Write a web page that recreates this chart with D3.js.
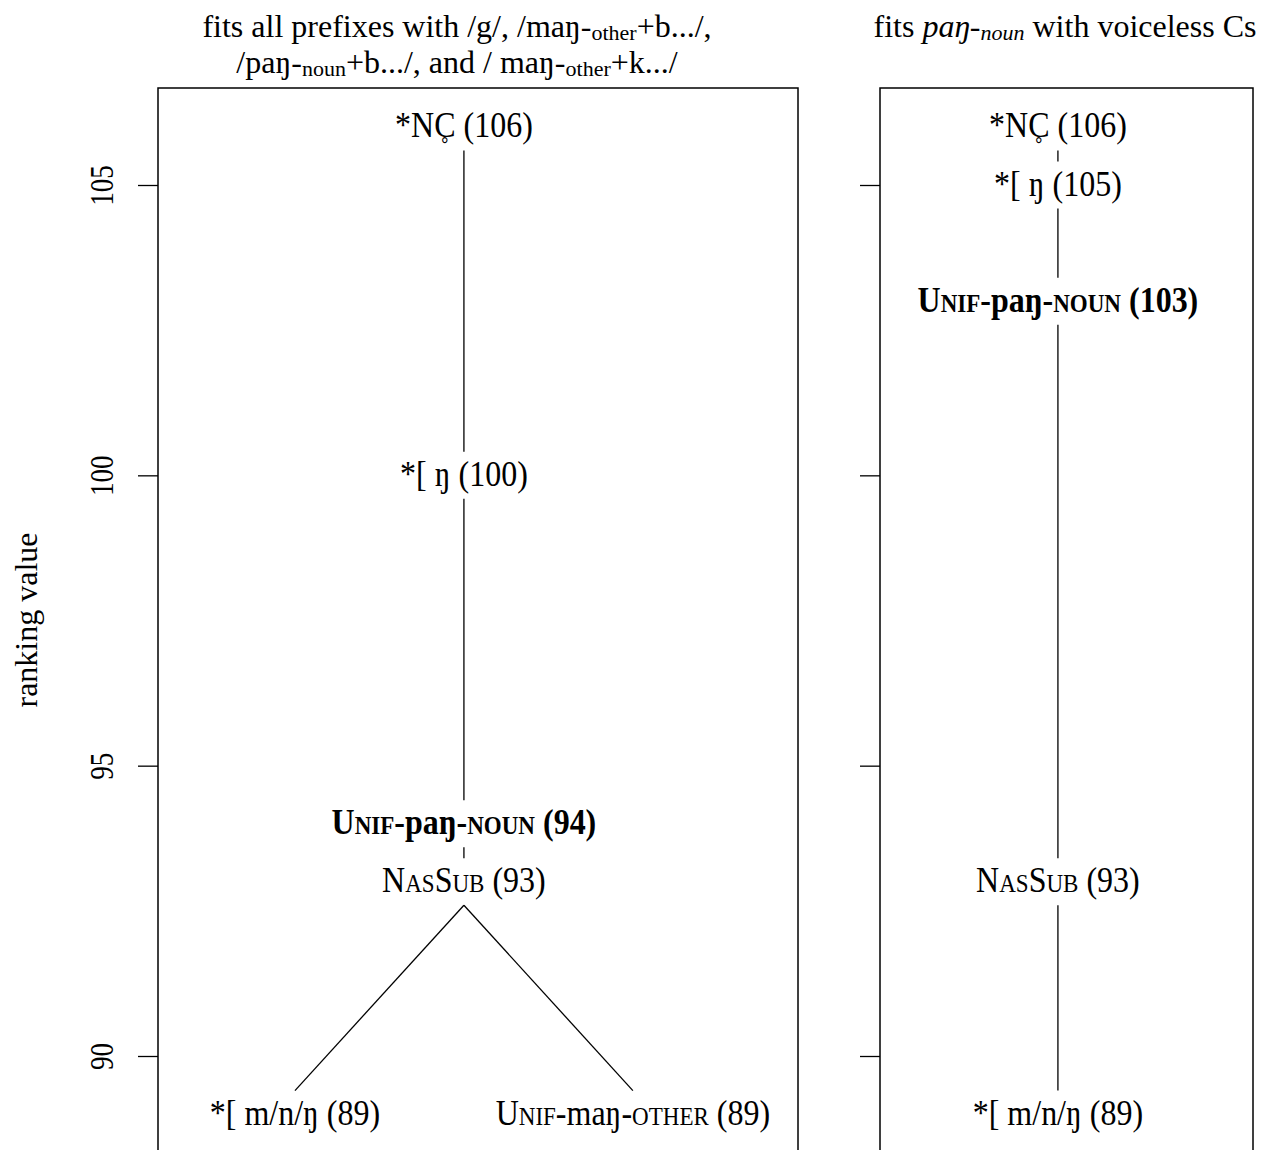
<!DOCTYPE html>
<html><head><meta charset="utf-8">
<script src="https://cdn.jsdelivr.net/npm/d3@7"></script>
<style>body{margin:0;background:#fff}svg{display:block}text{font-family:"Liberation Serif","Times New Roman",serif;fill:#000}</style>
</head><body>
<script>
// ---- data ----
const yTicks = [90, 95, 100, 105];
const yLabel = "ranking value";
// Labels: {…} = small caps segment, C\u0325 = C with ring below
const leftLabels = ["*NC\u0325 (106)", "*[ \u014B (100)", "U{nif}-pa\u014B-{noun} (94)", "N{as}S{ub} (93)", "*[ m/n/\u014B (89)", "U{nif}-ma\u014B-{other} (89)"];
const leftValues = [106, 100, 94, 93, 89, 89];
const leftPos = [0.478, 0.478, 0.478, 0.478, 0.214, 0.742];
const leftBold = [false, false, true, false, false, false];
const leftEdges = [[0, 1], [1, 2], [2, 3], [3, 4], [3, 5]];

const rightLabels = ["*NC\u0325 (106)", "*[ \u014B (105)", "U{nif}-pa\u014B-{noun} (103)", "N{as}S{ub} (93)", "*[ m/n/\u014B (89)"];
const rightValues = [106, 105, 103, 93, 89];
const rightPos = [0.477, 0.477, 0.477, 0.477, 0.477];
const rightBold = [false, false, true, false, false];
const rightEdges = [[0, 1], [1, 2], [2, 3], [3, 4]];

// titles: segments [text, style] style: n normal, sub subscript, i italic, isub italic subscript
const leftTitle = [
  [["fits all prefixes with /g/, /ma\u014B-", "n"], ["other", "sub"], ["+b.../,", "n"]],
  [["/pa\u014B-", "n"], ["noun", "sub"], ["+b.../, and / ma\u014B-", "n"], ["other", "sub"], ["+k.../", "n"]]
];
const rightTitle = [
  [["fits ", "n"], ["pa\u014B-", "i"], ["noun", "isub"], [" with voiceless Cs", "n"]]
];

// ---- layout ----
const W = 1262, H = 1150, FS = 32;
const svg = d3.select("body").append("svg").attr("width", W).attr("height", H);
const y = d3.scaleLinear().domain([90, 105]).range([1056, 185]);

const panels = [
  {x0: 158, x1: 798, tcx: 457, labels: leftLabels, values: leftValues, pos: leftPos, bold: leftBold, edges: leftEdges, title: leftTitle, tickLabels: true},
  {x0: 880, x1: 1253, tcx: 1065, labels: rightLabels, values: rightValues, pos: rightPos, bold: rightBold, edges: rightEdges, title: rightTitle, tickLabels: false}
];

function addRich(textSel, str) {
  const parts = str.split(/(\{[^}]*\}|C\u0325)/).filter(s => s.length);
  let pendingDx = null;
  parts.forEach(p => {
    let ts;
    if (p === "C\u0325") {
      const c = textSel.append("tspan").text("C");
      if (pendingDx !== null) { c.attr("dx", pendingDx); pendingDx = null; }
      const cw = c.node().getComputedTextLength();
      const ring = textSel.append("tspan").attr("font-size", FS * 0.85).text("\u02F3");
      const rw = ring.node().getComputedTextLength();
      const shift = cw / 2 + rw / 2;
      ring.attr("dx", -shift);
      pendingDx = shift - rw;
      return;
    }
    if (p[0] === "{") ts = textSel.append("tspan").attr("font-size", FS * 0.72).text(p.slice(1, -1).toUpperCase());
    else ts = textSel.append("tspan").text(p);
    if (pendingDx !== null) { ts.attr("dx", pendingDx); pendingDx = null; }
  });
}

const gap = 23.5;
panels.forEach(P => {
  const x = d3.scaleLinear().domain([0, 1]).range([P.x0, P.x1]);
  const g = svg.append("g");
  // box
  g.append("rect").attr("x", P.x0).attr("y", 88).attr("width", P.x1 - P.x0).attr("height", 1200)
    .attr("fill", "none").attr("stroke", "#000").attr("stroke-width", 1.5);
  // axis ticks
  const ax = d3.axisLeft(y).tickValues(yTicks).tickSize(20).tickPadding(0).tickFormat(P.tickLabels ? d3.format("d") : "");
  const axg = g.append("g").attr("transform", `translate(${P.x0},0)`).call(ax);
  axg.select(".domain").remove();
  axg.selectAll(".tick line").attr("stroke", "#000").attr("stroke-width", 1.3);
  axg.selectAll(".tick text").attr("font-size", 27).attr("font-family", "Liberation Serif")
    .attr("fill", "#000").attr("text-anchor", "middle").attr("x", 0).attr("dy", "0.34em")
    .attr("transform", "translate(-56.5,0) rotate(-90) scale(1,1.25)");
  // edges
  P.edges.forEach(([a, b]) => {
    g.append("line")
      .attr("x1", x(P.pos[a])).attr("y1", y(P.values[a]) + gap)
      .attr("x2", x(P.pos[b])).attr("y2", y(P.values[b]) - gap)
      .attr("stroke", "#000").attr("stroke-width", 1.3);
  });
  // labels
  P.labels.forEach((l, i) => {
    const t = g.append("text")
      .attr("transform", `translate(${x(P.pos[i])},${y(P.values[i])}) scale(1,1.1)`)
      .attr("dy", "0.3em")
      .attr("text-anchor", "middle").attr("font-size", FS).attr("font-weight", P.bold[i] ? "bold" : "normal");
    addRich(t, l);
  });
  // title
  P.title.forEach((line, li) => {
    const t = svg.append("text").attr("x", P.tcx).attr("y", 37 + li * 36).attr("text-anchor", "middle").attr("font-size", 32);
    line.forEach(([s, st]) => {
      const ts = t.append("tspan").text(s);
      if (st === "sub" || st === "isub") ts.attr("font-size", 22).attr("baseline-shift", "-3");
      if (st === "i" || st === "isub") ts.attr("font-style", "italic");
    });
  });
});

svg.append("text").attr("transform", `translate(37,${620}) rotate(-90)`).attr("text-anchor", "middle")
  .attr("font-size", 32).text(yLabel);
</script>
</body></html>
